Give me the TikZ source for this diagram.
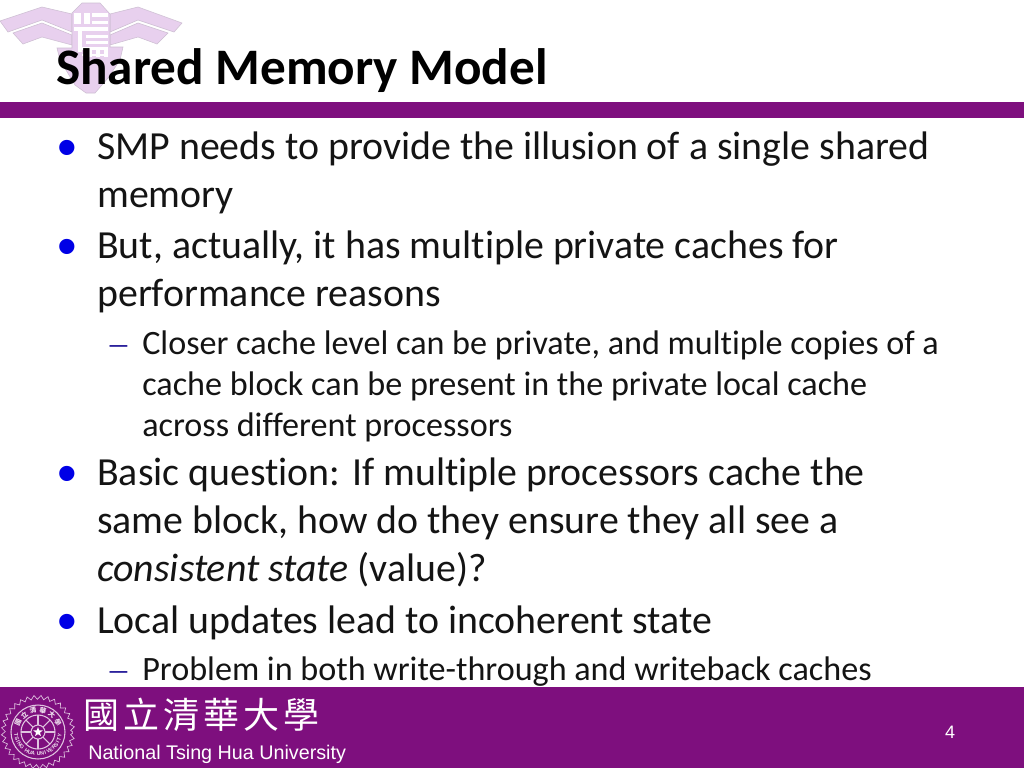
\documentclass[tikz,border=0pt]{standalone}
\usepackage{fontspec}
\setmainfont[Ligatures=NoCommon]{Carlito}
\newfontfamily\arialf{Liberation Sans}
\newfontfamily\serifdash{Liberation Serif}
\newfontfamily\cjkf{Noto Sans CJK TC}
\usetikzlibrary{decorations.pathmorphing,calc,shapes.geometric}
\definecolor{nthu}{RGB}{126,15,126}
\definecolor{pale}{RGB}{232,208,238}
\definecolor{paleedge}{RGB}{205,190,210}
\definecolor{bulletblue}{RGB}{0,0,230}
\definecolor{dashblue}{RGB}{30,20,150}
\tikzset{
  x=0.75pt,y=-0.75pt,
  body/.style={anchor=base west,inner sep=0pt,font=\fontsize{29.87}{30}\selectfont,text=black!92},
  sub/.style={anchor=base west,inner sep=0pt,font=\fontsize{25.6}{26}\selectfont,text=black!92},
  bulletmark/.style={anchor=base,inner sep=0pt,font=\arialf\fontsize{42}{42}\selectfont,text=bulletblue},
  dashmark/.style={anchor=base,inner sep=0pt,font=\serifdash\fontsize{26}{26}\selectfont,text=dashblue},
  wing/.style={fill=pale,draw=paleedge,line width=0.4pt},
  sealline/.style={draw=white!75!nthu,line width=0.8pt},
  sealtext/.style={inner sep=0pt,text=white!88!nthu},
}
\begin{document}
\begin{tikzpicture}
\useasboundingbox (0,0) rectangle (1024,768);
\fill[white] (0,0) rectangle (1024,768);
% top emblem
\path[wing] (0,21) -- (42,7) -- (72,14) -- (72,32) -- (42,20) -- (8,32) -- cycle;
\path[wing] (13,33) -- (42,23) -- (72,35) -- (72,45) -- (42,37) -- (23,44) -- cycle;
\path[wing] (182,23) -- (138,7) -- (110,14) -- (110,32) -- (138,20) -- (174,32) -- cycle;
\path[wing] (168,33) -- (138,23) -- (110,35) -- (110,45) -- (138,37) -- (157,44) -- cycle;
\path[wing] (72,13) -- (82,3) -- (100,3) -- (110,14) -- (110,47) -- (123,47) -- (120,60) -- (108,78) -- (95,93) -- (86,93) -- (75,85) -- (60,60) -- (57,48) -- (72,48) -- cycle;
\foreach \a/\b/\c/\d in {74/13/81/24, 84/13/90/24, 92/13/108/17, 92/21/108/24, 74/27/108/31, 78/31/82/52, 86/35/108/38, 86/41/108/44, 82/47/108/50, 88/50/92/57, 96/50/100/57, 104/50/108/57, 82/54/108/56}
  \fill[white] (\a,\b) rectangle (\c,\d);
% title
\node[anchor=base west,inner sep=0pt,font=\fontsize{38.4}{39}\selectfont\bfseries,text=black] (title) at (56,84) {Shared Memory Model};
% purple bars
\fill[nthu] (0,102) rectangle (1024,118);
\fill[nthu] (0,687) rectangle (1024,768);
% bullets
\node[bulletmark] (b1) at (67.5,166) {•};
\node[body] (t1) at (97,159) {SMP needs to provide the illusion of a single shared};
\node[body] (t1b) at (97,207) {memory};
\node[bulletmark] (b2) at (67.5,265) {•};
\node[body] (t2) at (97,258) {But, actually, it has multiple private caches for};
\node[body] (t2b) at (97,306) {performance reasons};
\node[dashmark] (d1) at (118.5,354) {–};
\node[sub] (s1) at (142,354) {Closer cache level can be private, and multiple copies of a};
\node[sub] (s1b) at (142,395) {cache block can be present in the private local cache};
\node[sub] (s1c) at (142,436) {across different processors};
\node[bulletmark] (b3) at (67.5,492) {•};
\node[body] (t3) at (97,485) {Basic question: If multiple processors cache the};
\node[body] (t3b) at (97,533) {same block, how do they ensure they all see a};
\node[body] (t3c) at (97,581) {\textit{consistent state} (value)?};
\node[bulletmark] (b4) at (67.5,640) {•};
\node[body] (t4) at (97,633) {Local updates lead to incoherent state};
\node[dashmark] (d2) at (118.5,680) {–};
\node[sub] (s2) at (142,680) {Problem in both write-through and writeback caches};
% footer
\node[anchor=base west,inner sep=0pt,font=\cjkf\fontsize{27}{27}\selectfont,text=white] (cjk) at (83,728) {國\hspace{3pt}立\hspace{3pt}清\hspace{3pt}華\hspace{3pt}大\hspace{3pt}學};
\node[anchor=base west,inner sep=0pt,font=\arialf\fontsize{14.8}{15}\selectfont,text=white] (uni) at (88,759) {National Tsing Hua University};
\node[anchor=base,inner sep=0pt,font=\arialf\fontsize{13.5}{14}\selectfont,text=white] (pg) at (950,738) {4};
% seal
\coordinate (seal) at (38,732);
\draw[sealline,line width=0.5pt,decorate,decoration={zigzag,segment length=5pt,amplitude=1.5pt}] (seal) circle[radius=26pt];
\draw[sealline] (seal) circle[radius=27];
\draw[sealline] (seal) circle[radius=17];
\draw[sealline] (seal) circle[radius=7];
\foreach \i in {0,45,...,315} \draw[sealline] ($(seal)+(\i:5.2pt)$) -- ($(seal)+(\i:12.7pt)$);
\node[star,star points=5,star point ratio=2.4,fill=white,inner sep=0pt,minimum size=7.5pt] (starmark) at (seal) {};
\foreach \ch/\ang in {國/155,立/129,清/103,華/77,大/51,學/25}
  \node[sealtext,rotate=\ang-90,font=\cjkf\bfseries\fontsize{5}{6}\selectfont] at ($(seal)+(\ang:16.5pt)$) {\ch};
\foreach \ch/\ang in {T/188,S/197,I/205,N/214,G/223,H/239,U/248,A/257,U/272,N/281,I/289,V/298,E/307,R/316,S/325,I/333,T/341,Y/350}
  \node[sealtext,rotate=\ang+90,font=\arialf\bfseries\fontsize{4}{5}\selectfont] at ($(seal)+(\ang:16.5pt)$) {\ch};
\end{tikzpicture}
\end{document}
